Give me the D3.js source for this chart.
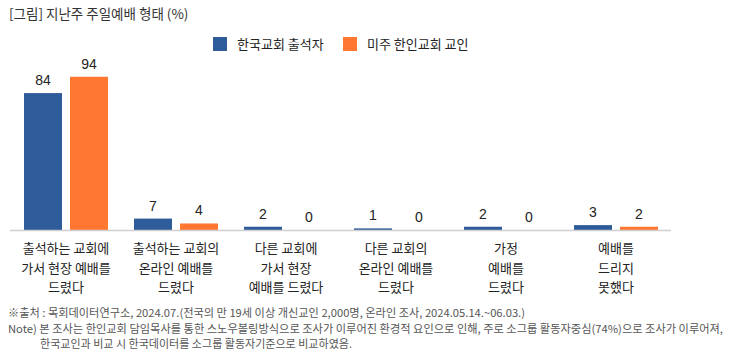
<!DOCTYPE html>
<html>
<head>
<meta charset="utf-8">
<script src="https://cdn.jsdelivr.net/npm/d3@7"></script>
<style>
  body { margin: 0; background: #fff; }
  text { font-family: "Liberation Sans", "Noto Sans CJK KR", sans-serif; }
  .kr { font-family: "Noto Sans CJK KR", sans-serif; }
</style>
</head>
<body>
<div id="chart"></div>
<script>
// data
var categories = [
    ["출석하는 교회에", "가서 현장 예배를", "드렸다"],
    ["출석하는 교회의", "온라인 예배를", "드렸다"],
    ["다른 교회에", "가서 현장", "예배를 드렸다"],
    ["다른 교회의", "온라인 예배를", "드렸다"],
    ["가정", "예배를", "드렸다"],
    ["예배를", "드리지", "못했다"]
];
var seriesNames = ["한국교회 출석자", "미주 한인교회 교인"];
var koreaValues = [84, 7, 2, 1, 2, 3];
var usValues = [94, 4, 0, 0, 0, 2];
var colors = ["#2E5B9A", "#FF7730"];

var titleText = "[그림] 지난주 주일예배 형태 (%)";
var notes = [
    "※출처 : 목회데이터연구소, 2024.07.(전국의 만 19세 이상 개신교인 2,000명, 온라인 조사, 2024.05.14.~06.03.)",
    "Note) 본 조사는 한인교회 담임목사를 통한 스노우볼링방식으로 조사가 이루어진 환경적 요인으로 인해, 주로 소그룹 활동자중심(74%)으로 조사가 이루어져,",
    "한국교인과 비교 시 한국데이터를 소그룹 활동자기준으로 비교하였음."
];

function init() {
    var w = 730, h = 363;
    var svg = d3.select("#chart").append("svg")
        .attr("width", w).attr("height", h);

    var baseY = 230;

    var x0 = d3.scaleBand()
        .domain(d3.range(categories.length))
        .range([11, 671]);

    // two bars of ~38px with an 8px gap
    var x1 = d3.scaleBand()
        .domain([0, 1])
        .range([x0.bandwidth() / 2 - 42, x0.bandwidth() / 2 + 42])
        .paddingInner(0.174);

    var y = d3.scaleLinear().domain([0, 100]).range([baseY, 67]);

    // title
    svg.append("text")
        .attr("class", "kr")
        .attr("x", 9).attr("y", 19)
        .attr("font-size", 13.5)
        .attr("fill", "#333")
        .text(titleText);

    // legend
    var legend = svg.selectAll(".legend")
        .data(seriesNames)
        .enter().append("g")
        .attr("transform", function(d, i) { return "translate(" + (213 + i * 130) + ",37)"; });
    legend.append("rect")
        .attr("width", 14).attr("height", 14)
        .attr("fill", function(d, i) { return colors[i]; });
    legend.append("text")
        .attr("class", "kr")
        .attr("x", 24).attr("y", 12)
        .attr("font-size", 13)
        .attr("fill", "#222")
        .text(function(d) { return d; });

    var table = categories.map(function(c, i) {
        return { i: i, vals: [koreaValues[i], usValues[i]] };
    });

    var groups = svg.selectAll(".grp")
        .data(table)
        .enter().append("g")
        .attr("transform", function(d) { return "translate(" + x0(d.i) + ",0)"; });

    groups.selectAll("rect")
        .data(function(d) { return d.vals; })
        .enter().append("rect")
        .attr("x", function(d, j) { return x1(j); })
        .attr("width", x1.bandwidth())
        .attr("y", function(d) { return y(d); })
        .attr("height", function(d) { return baseY - y(d); })
        .attr("fill", function(d, j) { return colors[j]; });

    groups.selectAll(".val")
        .data(function(d) { return d.vals; })
        .enter().append("text")
        .attr("x", function(d, j) { return x1(j) + x1.bandwidth() / 2; })
        .attr("y", function(d) { return y(d) - 8; })
        .attr("text-anchor", "middle")
        .attr("font-size", 14)
        .attr("fill", "#222")
        .text(function(d) { return d; });

    // baseline
    svg.append("line")
        .attr("x1", 10).attr("x2", 671)
        .attr("y1", baseY + 0.5).attr("y2", baseY + 0.5)
        .attr("stroke", "#cfcfcf").attr("stroke-width", 1.5);

    // category labels
    groups.append("text")
        .attr("class", "kr")
        .attr("text-anchor", "middle")
        .attr("font-size", 13)
        .attr("fill", "#222")
        .selectAll("tspan")
        .data(function(d) { return categories[d.i]; })
        .enter().append("tspan")
        .attr("x", x0.bandwidth() / 2)
        .attr("y", function(d, k) { return 253 + k * 19.5; })
        .text(function(d) { return d; });

    // footnotes
    var noteX = [8, 8, 40];
    var noteLen = [517, 715, 312];
    svg.selectAll(".note")
        .data(notes)
        .enter().append("text")
        .attr("class", "kr")
        .attr("x", function(d, i) { return noteX[i]; })
        .attr("y", function(d, i) { return 317 + i * 15.7; })
        .attr("font-size", 11)
        .attr("fill", "#555")
        .attr("textLength", function(d, i) { return noteLen[i]; })
        .attr("lengthAdjust", "spacingAndGlyphs")
        .text(function(d) { return d; });
}

window.onload = init;
</script>
</body>
</html>
